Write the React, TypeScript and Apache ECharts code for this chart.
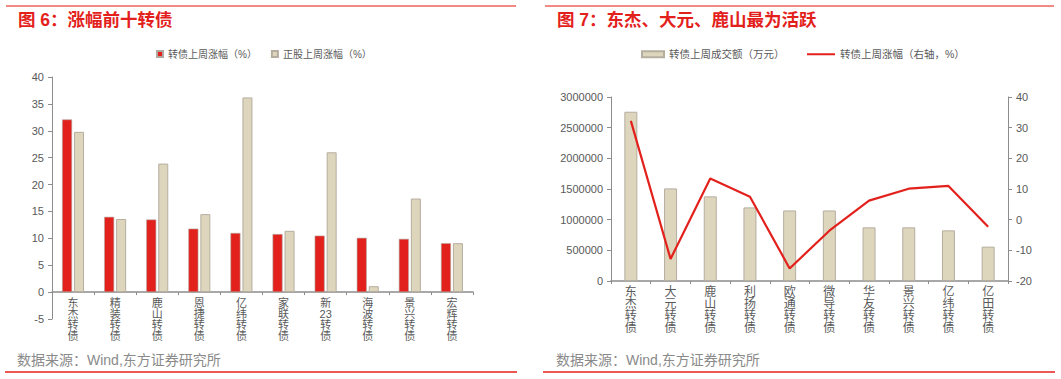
import React, { useEffect, useRef } from "react";
import * as echarts from "echarts";

const leftCategories = ["东杰转债", "精装转债", "鹿山转债", "恩捷转债", "亿纬转债", "家联转债", "新23转债", "海波转债", "景兴转债", "宏辉转债"];
const bondWeeklyChange = [32.1, 14.0, 13.5, 11.8, 11.0, 10.8, 10.5, 10.1, 9.9, 9.1];
const stockWeeklyChange = [29.8, 13.6, 23.9, 14.5, 36.2, 11.4, 26.0, 1.1, 17.4, 9.1];

const rightCategories = ["东杰转债", "大元转债", "鹿山转债", "利扬转债", "欧通转债", "微导转债", "华友转债", "景兴转债", "亿纬转债", "亿田转债"];
const weeklyTurnover = [2760000, 1510000, 1380000, 1200000, 1150000, 1150000, 875000, 875000, 826000, 560000];
const weeklyChangeRight = [32.2, -12.8, 13.4, 7.5, -15.9, -3.6, 6.2, 10.1, 11.0, -2.3];

const RED = "#E3211C";
const BEIGE = "#DED5BD";
const GREY = "#595959";
const AXIS = "#8C8C8C";
const FONT = "'Liberation Sans', 'Noto Sans CJK SC', sans-serif";

function vertical(s: string) {
  const parts: string[] = [];
  let i = 0;
  while (i < s.length) {
    if (/[0-9]/.test(s[i])) {
      let j = i;
      while (j < s.length && /[0-9]/.test(s[j])) j++;
      parts.push(s.slice(i, j));
      i = j;
    } else {
      parts.push(s[i]);
      i++;
    }
  }
  return parts.join("\n");
}

export default function App() {
  const ref = useRef<HTMLDivElement>(null);
  useEffect(() => {
    document.body.style.margin = "0";
    const chart = echarts.init(ref.current!, null, { renderer: "svg" });
    chart.setOption({
      animation: false,
      textStyle: { fontFamily: FONT },
      legend: [
        {
          left: 151,
          top: 44,
          icon: "rect",
          itemWidth: 6,
          itemHeight: 6,
          itemGap: 14,
          textStyle: { color: GREY, fontSize: 10, fontFamily: FONT },
          data: ["转债上周涨幅（%）", "正股上周涨幅（%）"],
        },
        {
          left: 636,
          top: 44,
          icon: "rect",
          itemWidth: 22,
          itemHeight: 6,
          textStyle: { color: GREY, fontSize: 10.5, fontFamily: FONT },
          data: ["转债上周成交额（万元）"],
        },
        {
          left: 802,
          top: 44,
          icon: "rect",
          itemWidth: 28,
          itemHeight: 2,
          textStyle: { color: GREY, fontSize: 10.5, fontFamily: FONT },
          data: ["转债上周涨幅（右轴，%）"],
        },
      ],
      grid: [
        { left: 52, width: 421, top: 77, height: 242 },
        { left: 611, width: 397, top: 97, height: 184 },
      ],
      xAxis: [
        {
          type: "category",
          gridIndex: 0,
          data: leftCategories,
          axisLine: { onZero: true, lineStyle: { color: AXIS, width: 1.5 } },
          axisTick: { show: true, length: 3, lineStyle: { color: AXIS } },
          axisLabel: {
            color: GREY,
            fontSize: 11,
            lineHeight: 11,
            margin: -22,
            interval: 0,
            formatter: (v: string) => vertical(v),
          },
        },
        {
          type: "category",
          gridIndex: 1,
          data: rightCategories,
          axisLine: { lineStyle: { color: AXIS, width: 1.5 } },
          axisTick: { show: true, length: 3, lineStyle: { color: AXIS } },
          axisLabel: {
            color: GREY,
            fontSize: 12,
            lineHeight: 12,
            margin: 5,
            interval: 0,
            formatter: (v: string) => vertical(v),
          },
        },
      ],
      yAxis: [
        {
          type: "value",
          gridIndex: 0,
          min: -5,
          max: 40,
          interval: 5,
          axisLine: { show: true, lineStyle: { color: AXIS } },
          axisTick: { show: true, length: 4, lineStyle: { color: AXIS } },
          splitLine: { show: false },
          axisLabel: { color: GREY, fontSize: 11, margin: 8 },
        },
        {
          type: "value",
          gridIndex: 1,
          min: 0,
          max: 3000000,
          interval: 500000,
          axisLine: { show: true, lineStyle: { color: AXIS } },
          axisTick: { show: true, length: 4, lineStyle: { color: AXIS } },
          splitLine: { show: false },
          axisLabel: { color: GREY, fontSize: 11, margin: 8, formatter: (v: number) => String(v) },
        },
        {
          type: "value",
          gridIndex: 1,
          position: "right",
          min: -20,
          max: 40,
          interval: 10,
          axisLine: { show: true, lineStyle: { color: AXIS } },
          axisTick: { show: true, length: 4, lineStyle: { color: AXIS } },
          splitLine: { show: false },
          axisLabel: { color: GREY, fontSize: 11, margin: 8 },
        },
      ],
      series: [
        {
          name: "转债上周涨幅（%）",
          type: "bar",
          xAxisIndex: 0,
          yAxisIndex: 0,
          data: bondWeeklyChange,
          barWidth: 10,
          barGap: "20%",
          itemStyle: { color: RED, borderColor: "#B0A8A0", borderWidth: 0.6 },
        },
        {
          name: "正股上周涨幅（%）",
          type: "bar",
          xAxisIndex: 0,
          yAxisIndex: 0,
          data: stockWeeklyChange,
          barWidth: 10,
          itemStyle: { color: BEIGE, borderColor: "#B5AE9F", borderWidth: 1 },
        },
        {
          name: "转债上周成交额（万元）",
          type: "bar",
          xAxisIndex: 1,
          yAxisIndex: 1,
          data: weeklyTurnover,
          barWidth: 13,
          itemStyle: { color: BEIGE, borderColor: "#B5AE9F", borderWidth: 1 },
        },
        {
          name: "转债上周涨幅（右轴，%）",
          type: "line",
          xAxisIndex: 1,
          yAxisIndex: 2,
          data: weeklyChangeRight,
          symbol: "none",
          lineStyle: { color: RED, width: 2.2 },
          itemStyle: { color: RED },
        },
      ],
      graphic: [
        { type: "line", shape: { x1: 6, y1: 6, x2: 516, y2: 6 }, style: { stroke: "#F28A84", lineWidth: 2 } },
        { type: "line", shape: { x1: 545, y1: 6, x2: 1054, y2: 6 }, style: { stroke: "#F28A84", lineWidth: 2 } },
        { type: "line", shape: { x1: 5, y1: 372, x2: 517, y2: 372 }, style: { stroke: RED, lineWidth: 1.5 } },
        { type: "line", shape: { x1: 543, y1: 372, x2: 1055, y2: 372 }, style: { stroke: RED, lineWidth: 1.5 } },
        {
          type: "text",
          left: 18,
          top: 11,
          style: { text: "图 6：涨幅前十转债", fill: RED, font: `bold 17.5px ${FONT}` },
        },
        {
          type: "text",
          left: 557,
          top: 11,
          style: { text: "图 7：东杰、大元、鹿山最为活跃", fill: RED, font: `bold 17.5px ${FONT}` },
        },
        {
          type: "text",
          left: 17,
          top: 353,
          style: { text: "数据来源：Wind,东方证券研究所", fill: "#8A8A8A", font: `14px ${FONT}` },
        },
        {
          type: "text",
          left: 556,
          top: 353,
          style: { text: "数据来源：Wind,东方证券研究所", fill: "#8A8A8A", font: `14px ${FONT}` },
        },
      ],
    });
    return () => chart.dispose();
  }, []);
  return <div ref={ref} style={{ width: 1061, height: 379 }} />;
}
